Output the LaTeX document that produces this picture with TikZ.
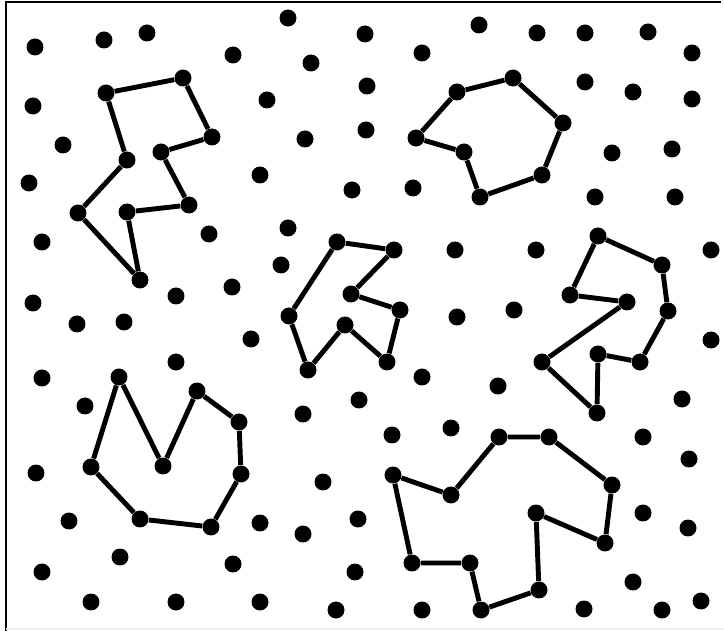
\documentclass[tikz,border=0pt]{standalone}
\usepackage{tikz}

\begin{document}
\begin{tikzpicture}[
  x=0.02cm, y=-0.02cm,
  dot/.style={circle, fill=black, inner sep=0pt, minimum size=0.34cm},
  edge/.style={line width=2.8pt, black}
]
\useasboundingbox (0,0) rectangle (724,631);
\draw[line width=1pt] (6,631) -- (6,2) -- (721,2);
\draw[gray!15, line width=0.6pt] (6,629) -- (724,629);

% scattered points
\foreach \x/\y [count=\i] in {35/47, 104/40, 147/33, 233/55, 288/18, 365/34, 422/53, 479/25,
    537/33, 585/33, 648/32, 692/53, 33/106, 267/100, 311/63, 367/86, 585/82, 633/92, 692/99,
    63/145, 305/139, 366/130, 612/153, 672/149, 29/183, 260/175, 352/190, 413/188, 595/197,
    675/197, 42/242, 209/234, 288/228, 281/265, 455/250, 536/250, 711/250, 33/303, 77/324,
    124/322, 176/296, 232/287, 251/339, 457/317, 514/310, 711/340, 42/378, 176/362, 85/406,
    422/377, 498/386, 682/399, 303/414, 359/400, 36/473, 323/482, 392/435, 451/428, 643/437,
    689/459, 69/521, 260/523, 303/534, 358/519, 643/513, 688/528, 42/572, 120/557, 233/564,
    355/572, 633/582, 91/602, 176/602, 260/602, 336/610, 422/610, 584/609, 662/610, 701/601}
  \node[dot] (p\i) at (\x,\y) {};

% polygon A
\foreach \x/\y [count=\i] in {106/93, 183/78, 212/137, 161/152, 189/205, 127/212, 140/280, 78/213, 127/160}
  \node[dot] (a\i) at (\x,\y) {};
\draw[edge] (a1) -- (a2) -- (a3) -- (a4) -- (a5) -- (a6) -- (a7) -- (a8) -- (a9) -- (a1);

% polygon B
\foreach \x/\y [count=\i] in {416/138, 457/92, 513/78, 563/123, 542/175, 480/197, 464/152}
  \node[dot] (b\i) at (\x,\y) {};
\draw[edge] (b1) -- (b2) -- (b3) -- (b4) -- (b5) -- (b6) -- (b7) -- (b1);

% polygon C
\foreach \x/\y [count=\i] in {337/242, 394/250, 351/294, 400/310, 387/362, 345/325, 308/370, 289/316}
  \node[dot] (c\i) at (\x,\y) {};
\draw[edge] (c1) -- (c2) -- (c3) -- (c4) -- (c5) -- (c6) -- (c7) -- (c8) -- (c1);

% polygon D
\foreach \x/\y [count=\i] in {598/236, 662/265, 668/311, 640/362, 598/354, 597/413, 542/362, 627/302, 570/295}
  \node[dot] (d\i) at (\x,\y) {};
\draw[edge] (d1) -- (d2) -- (d3) -- (d4) -- (d5) -- (d6) -- (d7) -- (d8) -- (d9) -- (d1);

% polygon E
\foreach \x/\y [count=\i] in {119/377, 163/466, 197/391, 239/422, 241/474, 211/527, 140/519, 91/467}
  \node[dot] (e\i) at (\x,\y) {};
\draw[edge] (e1) -- (e2) -- (e3) -- (e4) -- (e5) -- (e6) -- (e7) -- (e8) -- (e1);

% polygon F
\foreach \x/\y [count=\i] in {393/475, 451/495, 499/437, 549/437, 612/485, 605/543, 536/513, 539/590, 481/610, 470/563, 412/563}
  \node[dot] (f\i) at (\x,\y) {};
\draw[edge] (f1) -- (f2) -- (f3) -- (f4) -- (f5) -- (f6) -- (f7) -- (f8) -- (f9) -- (f10) -- (f11) -- (f1);
\end{tikzpicture}
\end{document}
